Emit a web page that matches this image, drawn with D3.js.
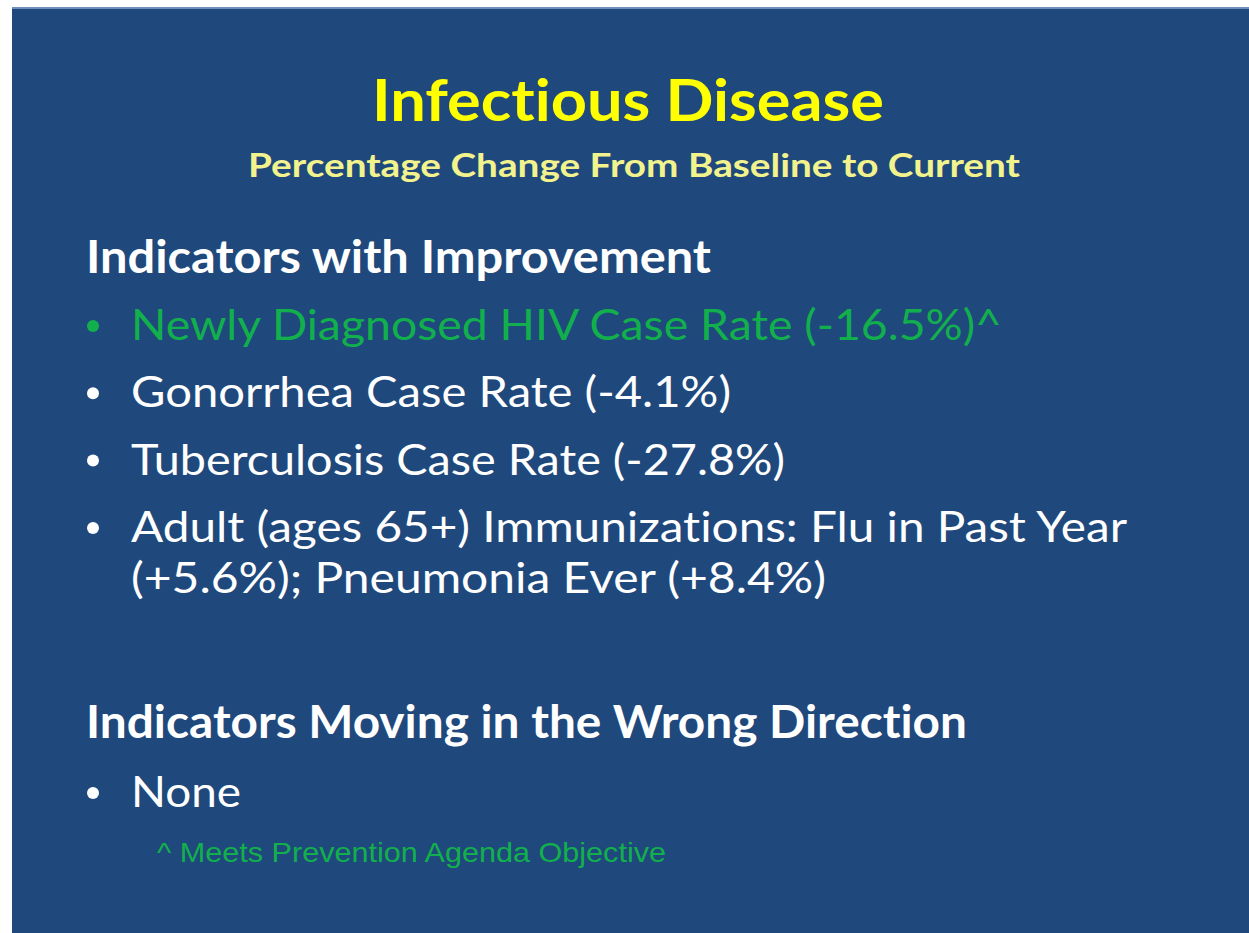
<!DOCTYPE html>
<html lang="en">
<head>
    <meta charset="UTF-8">
    <title>Infectious Disease</title>
    <script src="https://d3js.org/d3.v7.min.js"></script>
    <style>
        body { margin: 0; background: #fff; }
        svg text { font-family: Lato, "Open Sans", sans-serif; font-variant-ligatures: none; }
        svg text.note { font-family: "Liberation Sans", Arial, sans-serif; }
    </style>
</head>
<body>
    <svg id="slide" width="1249" height="933"></svg>
    <script>
        // slide text
        const title = "Infectious Disease";
        const subtitle = "Percentage  Change From Baseline to Current";
        const headings = ["Indicators with Improvement", "Indicators Moving in the Wrong Direction"];
        // each indicator may wrap onto several lines
        const improved = [
            ["Newly Diagnosed HIV Case Rate (-16.5%)^"],
            ["Gonorrhea Case Rate (-4.1%)"],
            ["Tuberculosis Case Rate (-27.8%)"],
            ["Adult (ages 65+) Immunizations: Flu in Past Year", "(+5.6%); Pneumonia Ever (+8.4%)"]
        ];
        const meetsObjective = [true, false, false, false];
        const wrongDirection = [["None"]];
        const footnote = "^ Meets Prevention Agenda Objective";

        const svg = d3.select("#slide");
        const green = "#12b04c";

        svg.append("rect").attr("x", 12).attr("y", 7).attr("width", 1237).attr("height", 926)
            .attr("fill", "#1f497d");
        svg.append("rect").attr("x", 12).attr("y", 7).attr("width", 1237).attr("height", 2)
            .attr("fill", "#6f8fb8");

        // squeeze/stretch a text to the width seen on the slide
        function fit(sel, w) {
            sel.attr("textLength", w).attr("lengthAdjust", "spacingAndGlyphs");
        }

        svg.append("text").text(title)
            .attr("x", 628).attr("y", 121).attr("text-anchor", "middle")
            .attr("font-size", 57).attr("font-weight", 700).attr("fill", "#ffff00")
            .call(fit, 512);

        svg.append("text").text(subtitle)
            .attr("x", 634).attr("y", 177).attr("text-anchor", "middle")
            .attr("font-size", 32).attr("font-weight", 700).attr("fill", "#f3f38e")
            .call(fit, 772);

        const headW = [625, 881];
        const headY = [273, 738];
        svg.selectAll("text.head").data(headings).join("text").attr("class", "head")
            .text(d => d)
            .attr("x", 86).attr("y", (d, i) => headY[i])
            .attr("font-size", 45).attr("font-weight", 700).attr("fill", "#fff")
            .each(function(d, i) { fit(d3.select(this), headW[i]); });

        // bullet rows: one entry per indicator, continuation lines follow closely
        const rows = [];
        improved.forEach((lines, i) => lines.forEach((t, j) =>
            rows.push({ t, bullet: j === 0, green: meetsObjective[i], start: 340, k: i, j })));
        wrongDirection.forEach((lines, i) => lines.forEach((t, j) =>
            rows.push({ t, bullet: j === 0, green: false, start: 807, k: i, j })));

        const rowY = d3.scaleLinear().domain([0, 1]).range([0, 67.3]);
        const contY = d3.scaleLinear().domain([0, 1]).range([0, 51]);
        const rowW = {
            "Newly Diagnosed HIV Case Rate (-16.5%)^": 871,
            "Gonorrhea Case Rate (-4.1%)": 600,
            "Tuberculosis Case Rate (-27.8%)": 654,
            "Adult (ages 65+) Immunizations: Flu in Past Year": 996,
            "(+5.6%); Pneumonia Ever (+8.4%)": 695,
            "None": 110
        };

        rows.forEach(r => {
            const y = r.start + rowY(r.k) + contY(r.j);
            const col = r.green ? green : "#fff";
            if (r.bullet) {
                svg.append("circle").attr("cx", 93).attr("cy", y - 14).attr("r", 6).attr("fill", col);
            }
            svg.append("text").text(r.t)
                .attr("x", 131).attr("y", y)
                .attr("font-size", 42).attr("fill", col)
                .call(fit, rowW[r.t]);
        });

        svg.append("text").attr("class", "note").text(footnote)
            .attr("x", 157).attr("y", 862)
            .attr("font-size", 28).attr("fill", green)
            .call(fit, 509);
    </script>
</body>
</html>
